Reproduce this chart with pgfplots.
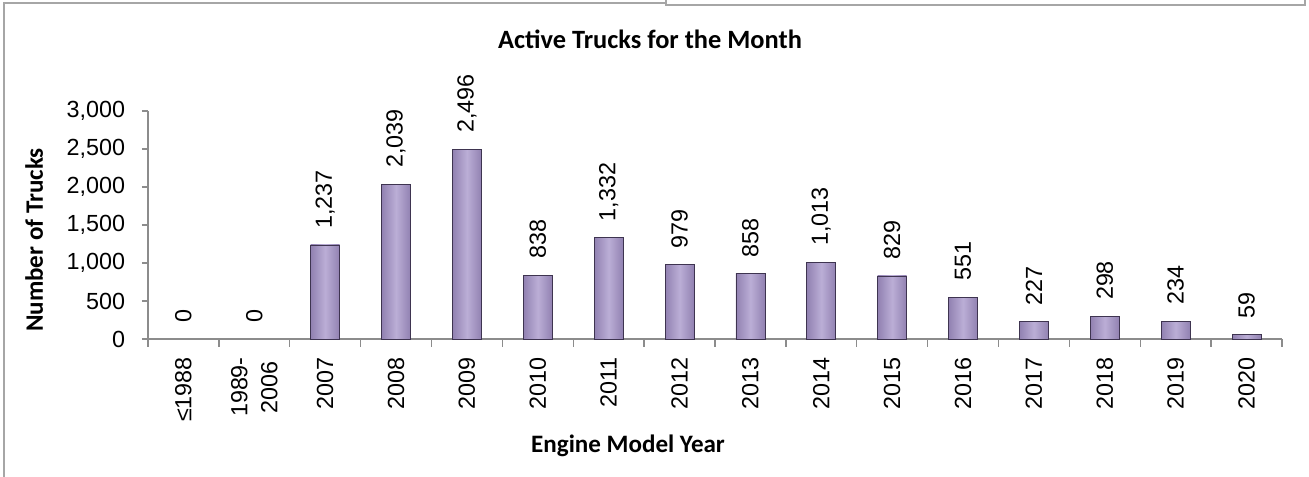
\documentclass[border=0pt]{standalone}
\usepackage{fontspec}
\setmainfont{Liberation Sans}
\newfontfamily\calibri{Carlito}
\usepackage{pgfplots}
\pgfplotsset{compat=1.18}
\definecolor{barL}{HTML}{BBAED6}
\definecolor{barD}{HTML}{9181B1}
\definecolor{barE}{HTML}{3E3450}
\definecolor{axgray}{HTML}{8C8C8C}
\definecolor{framegray}{HTML}{A6A6A6}
\pgfplotsset{mybar/.style={draw=barE, line width=0.6pt, left color=barD, right color=barD, middle color=barL}}
\begin{document}
\begin{tikzpicture}
\path[use as bounding box] (-111pt,-103.5pt) rectangle (870.75pt,254.25pt);
\draw[framegray, line width=1.5pt] (-108pt,-103.5pt) -- (-108pt,252pt) -- (388.5pt,252pt);
\draw[framegray, line width=1.2pt] (388.5pt,254.25pt) -- (388.5pt,250.5pt) -- (867.75pt,250.5pt) -- (867.75pt,254.25pt);
\begin{axis}[
  at={(0,0)}, anchor=south west, scale only axis,
  width=850.5pt, height=171pt,
  ybar, bar width=21.75pt, bar shift=0pt,
  xmin=-0.5, xmax=15.5, ymin=0, ymax=3000,
  axis x line*=bottom, axis y line*=left,
  axis line style={axgray, line width=1pt},
  tick style={axgray, line width=1pt},
  tick align=outside,
  xtick={0,...,15},
  xticklabels={{≤1988},{1989-\\2006},2007,2008,2009,2010,2011,2012,2013,2014,2015,2016,2017,2018,2019,2020},
  major x tick style={draw=none},
  minor xtick={-0.5,0.5,...,15.5},
  minor tick length=6pt,
  ytick={0,500,...,3000},
  major tick length=4.5pt,
  /pgf/number format/assume math mode=true,
  /pgf/number format/1000 sep={,},
  tick label style={font=\fontsize{17.5pt}{22.5pt}\selectfont, black},
  xticklabel style={rotate=90, anchor=east, align=center, inner sep=0pt, xshift=-9pt},
  yticklabel style={anchor=east, inner sep=0pt, xshift=-12.5pt},
  clip=false,
  nodes near coords,
  every node near coord/.append style={rotate=90, anchor=west, inner sep=0pt, xshift=12pt, font=\fontsize{17.5pt}{20pt}\selectfont, black},
]
\addplot[draw=none, fill=none] coordinates {(0,0) (1,0)};
\addplot[mybar] coordinates {(2,1237)};
\addplot[mybar] coordinates {(3,2039)};
\addplot[mybar] coordinates {(4,2496)};
\addplot[mybar] coordinates {(5,838)};
\addplot[mybar] coordinates {(6,1332)};
\addplot[mybar] coordinates {(7,979)};
\addplot[mybar] coordinates {(8,858)};
\addplot[mybar] coordinates {(9,1013)};
\addplot[mybar] coordinates {(10,829)};
\addplot[mybar] coordinates {(11,551)};
\addplot[mybar] coordinates {(12,227)};
\addplot[mybar] coordinates {(13,298)};
\addplot[mybar] coordinates {(14,234)};
\addplot[mybar] coordinates {(15,59)};
\end{axis}
\node[anchor=base, inner sep=0pt, font=\calibri\bfseries\fontsize{19.8pt}{22pt}\selectfont] at (376.5pt,217.5pt) {Active Trucks for the Month};
\node[anchor=base, inner sep=0pt, font=\calibri\bfseries\fontsize{18.8pt}{21pt}\selectfont] at (360pt,-85.5pt) {Engine Model Year};
\node[anchor=base, inner sep=0pt, rotate=90, font=\calibri\bfseries\fontsize{18.8pt}{21pt}\selectfont] at (-78.75pt,74.25pt) {Number of Trucks};
\end{tikzpicture}
\end{document}
